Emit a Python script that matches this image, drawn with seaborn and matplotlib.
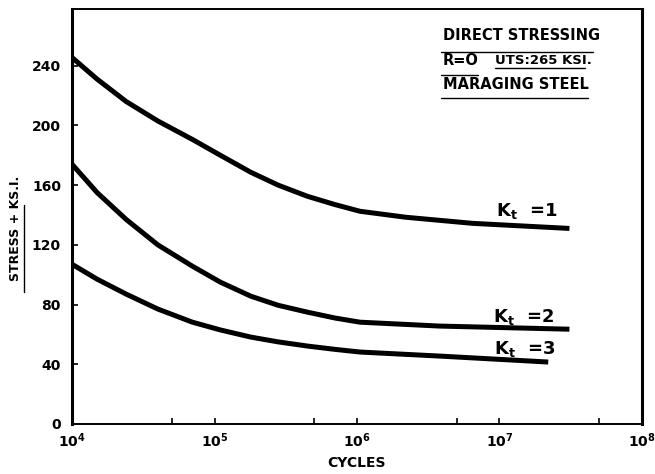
""" S-N curves for maraging steel, direct stressing
"""

import matplotlib.pyplot as plt
import pandas as pd
import seaborn as sns

# values
cycles_kt1 = [1e4, 1.5e4, 2.4e4, 4e4, 7e4, 1.1e5, 1.8e5, 2.8e5, 4.5e5,
              7e5, 1.05e6, 2.2e6, 6.5e6, 3.1e7]
stress_kt1 = [245.5, 231, 216, 203, 190.6, 180, 168.6, 160, 152.5,
              147, 142.5, 138.5, 134.4, 131]

cycles_kt2 = [1e4, 1.5e4, 2.4e4, 4e4, 7e4, 1.1e5, 1.8e5, 2.8e5, 4.5e5,
              7e5, 1.05e6, 3.8e6, 3.1e7]
stress_kt2 = [174, 155, 137, 120, 105.7, 95, 85.6, 79.5, 74.9,
              71, 68.2, 65.6, 63.5]

cycles_kt3 = [1e4, 1.5e4, 2.4e4, 4e4, 7e4, 1.1e5, 1.8e5, 2.8e5, 4.5e5,
              7e5, 1.05e6, 3.8e6, 2.2e7]
stress_kt3 = [107, 97, 87, 77, 68.2, 63, 58.2, 55, 52.2,
              50, 48.2, 45.5, 41.5]

curve_labels = [r"K$_\mathbf{t}$  =1", r"K$_\mathbf{t}$  =2", r"K$_\mathbf{t}$  =3"]
label_pos = [(9.5e6, 142.5), (9.0e6, 72), (9.2e6, 50)]

y_ticks = [0, 40, 80, 120, 160, 200, 240]
x_ticks = [1e4, 1e5, 1e6, 1e7, 1e8]
x_tick_labels = [r"$\mathbf{10^4}$", r"$\mathbf{10^5}$", r"$\mathbf{10^6}$",
                 r"$\mathbf{10^7}$", r"$\mathbf{10^8}$"]

sns.set_style("white")
plt.rcParams["font.family"] = ["DejaVu Sans"]
plt.rcParams["mathtext.fontset"] = "dejavusans"
for key in ["text.color", "axes.labelcolor", "xtick.color", "ytick.color"]:
    plt.rcParams[key] = "black"

df = pd.concat([
    pd.DataFrame({"cycles": cycles_kt1, "stress": stress_kt1, "kt": "1"}),
    pd.DataFrame({"cycles": cycles_kt2, "stress": stress_kt2, "kt": "2"}),
    pd.DataFrame({"cycles": cycles_kt3, "stress": stress_kt3, "kt": "3"}),
])

fig = plt.figure(figsize=(6.55, 4.74), dpi=100)
ax = fig.add_axes([0.110, 0.1055, 0.870, 0.8755])
ax.set_xscale("log")

for kt in ["1", "2", "3"]:
    sub = df[df["kt"] == kt]
    sns.lineplot(data=sub, x="cycles", y="stress", ax=ax, color="black",
                 linewidth=3.6, solid_capstyle="butt", solid_joinstyle="round",
                 estimator=None, sort=False)

ax.set_xlim(1e4, 1e8)
ax.set_ylim(0, 278)

ax.set_yticks(y_ticks)
ax.set_yticklabels([str(v) for v in y_ticks], fontweight="bold", fontsize=10)
ax.set_xticks(x_ticks)
ax.set_xticklabels(x_tick_labels, fontsize=10)
ax.set_xticks([5e4, 5e5, 5e6, 5e7], minor=True)
ax.xaxis.set_minor_formatter(plt.NullFormatter())
ax.tick_params(axis="both", which="both", direction="in", length=4,
               width=1.2, color="black", left=True, bottom=True, pad=5)
ax.tick_params(axis="y", pad=8)

for side in ["top", "bottom"]:
    ax.spines[side].set_linewidth(1.4)
for side in ["left", "right"]:
    ax.spines[side].set_linewidth(2.2)
for sp in ax.spines.values():
    sp.set_color("black")

ax.set_xlabel("CYCLES", fontweight="bold", fontsize=10, labelpad=5)
ax.set_ylabel("")
fig.text(0.024, 0.519, "STRESS + KS.I.", rotation=90, fontweight="bold",
         fontsize=9, ha="center", va="center")
fig.add_artist(plt.Line2D([0.036, 0.036], [0.384, 0.568], color="black",
                          linewidth=1.0))

# curve labels
for text, (lx, ly) in zip(curve_labels, label_pos):
    ax.text(lx, ly, text, fontsize=13, fontweight="bold", ha="left",
            va="center")

# title block with hand-drawn style underlines
fig.text(0.676, 0.926, "DIRECT STRESSING", fontsize=10.5, fontweight="bold",
         ha="left", va="center")
fig.text(0.676, 0.873, "R=O", fontsize=10.5, fontweight="bold",
         ha="left", va="center")
fig.text(0.756, 0.873, "UTS:265 KSI.", fontsize=9.5, fontweight="bold",
         ha="left", va="center")
fig.text(0.676, 0.821, "MARAGING STEEL", fontsize=10.5, fontweight="bold",
         ha="left", va="center")
for y, x0, x1 in [(0.890, 0.674, 0.906), (0.842, 0.674, 0.730),
                  (0.857, 0.756, 0.893), (0.793, 0.674, 0.897)]:
    fig.add_artist(plt.Line2D([x0, x1], [y, y], color="black", linewidth=1.0))

fig.savefig("out.png", dpi=100)
